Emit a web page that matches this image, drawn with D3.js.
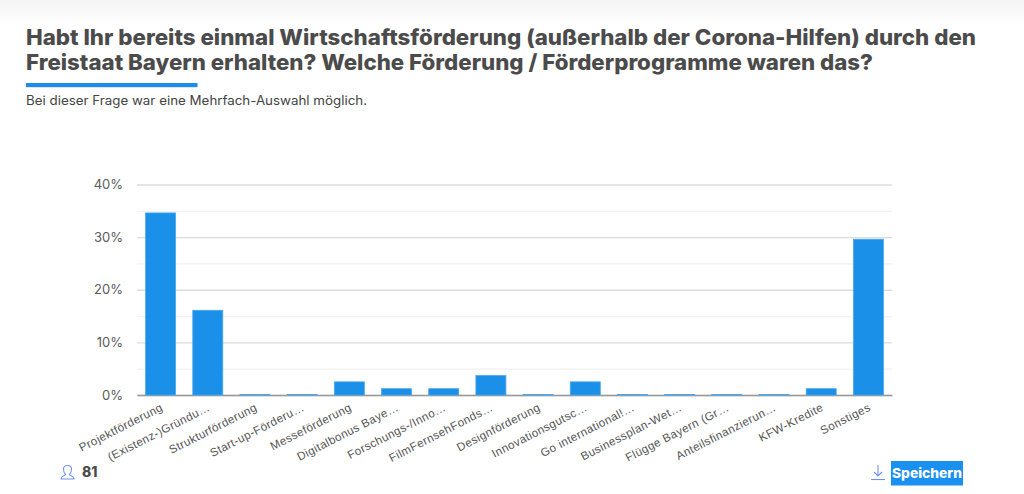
<!DOCTYPE html>
<html>
<head>
<meta charset="utf-8">
<script src="https://cdnjs.cloudflare.com/ajax/libs/d3/7.8.5/d3.min.js"></script>
<style>
html, body { margin: 0; padding: 0; background: #fff; overflow: hidden; }
svg { display: block; font-family: Inter, "Open Sans", sans-serif; }
.grid-major line { stroke: #dcdcdc; stroke-width: 1.3; }
.grid-minor line { stroke: #f1f1f1; stroke-width: 1.3; }
.grid-major path, .grid-minor path, .y-axis path, .y-axis line, .x-axis line { display: none; }
.x-axis path { stroke: #999; stroke-width: 1.5; }
.y-axis text { font-size: 13px; fill: #5a5a5a; font-family: Inter, sans-serif; }
.x-axis text { font-size: 11.6px; fill: #555; letter-spacing: .4px; }
.bar { fill: #1a90e8; stroke: #4ba8ee; stroke-width: .8; }
</style>
</head>
<body>
<svg id="chart" width="1024" height="494"></svg>
<script>
var titleLines = [
	"Habt Ihr bereits einmal Wirtschaftsförderung (außerhalb der Corona-Hilfen) durch den",
	"Freistaat Bayern erhalten? Welche Förderung / Förderprogramme waren das?"
];
var subtitle = "Bei dieser Frage war eine Mehrfach-Auswahl möglich.";
var categories = ["Projektförderung", "(Existenz-)Gründu…", "Strukturförderung", "Start-up-Förderu…",
	"Messeförderung", "Digitalbonus Baye…", "Forschungs-/Inno…", "FilmFernsehFonds…",
	"Designförderung", "Innovationsgutsc…", "Go international!…", "Businessplan-Wet…",
	"Flügge Bayern (Gr…", "Anteilsfinanzierun…", "KFW-Kredite", "Sonstiges"];
var percents = [34.6, 16.1, 0, 0, 2.5, 1.2, 1.2, 3.7, 0, 2.5, 0, 0, 0, 0, 1.2, 29.6];
var majorTicks = [0, 10, 20, 30, 40];
var minorTicks = [5, 15, 25, 35];
var respondents = "81";
var saveLabel = "Speichern";

var LEFT = 137, RIGHT = 892, TOP = 184.5, BOTTOM = 395;
var MIN_BAR = 0.6; // empty bars still show as a thin line on the axis
var svg = d3.select("#chart");

// top shade
var defs = svg.append("defs");
var shade = defs.append("linearGradient").attr("id", "top_shade")
	.attr("x1", 0).attr("x2", 0).attr("y1", 0).attr("y2", 1);
shade.append("stop").attr("offset", 0).attr("stop-color", "#f3f3f3");
shade.append("stop").attr("offset", 1).attr("stop-color", "#ffffff");
svg.append("rect").attr("width", 1024).attr("height", 24).attr("fill", "url(#top_shade)");

// title
svg.selectAll(".title-line")
	.data(titleLines)
	.enter()
	.append("text")
	.attr("class", "title-line")
	.attr("x", 26)
	.attr("y", function(d, i) { return 45 + i * 25; })
	.attr("textLength", function(d, i) { return i == 0 ? 950 : 847; })
	.attr("lengthAdjust", "spacingAndGlyphs")
	.style("font-size", "21.5px")
	.style("font-weight", 800)
	.style("fill", "#4b4b4b")
	.text(function(d) { return d; });

svg.append("rect").attr("x", 26).attr("y", 83).attr("width", 171.5).attr("height", 4.2).attr("fill", "#1f8ceb");

svg.append("text")
	.attr("x", 26).attr("y", 105)
	.attr("textLength", 341)
	.attr("lengthAdjust", "spacingAndGlyphs")
	.style("font-size", "12.5px")
	.style("fill", "#444")
	.text(subtitle);

// scales
var x = d3.scaleBand().domain(categories).range([LEFT, RIGHT]).paddingInner(0.364).paddingOuter(0.182);
var y = d3.scaleLinear().domain([0, 40]).range([BOTTOM, TOP]);

// grid
svg.append("g").attr("class", "grid-minor")
	.attr("transform", "translate(" + LEFT + ",0)")
	.call(d3.axisLeft(y).tickValues(minorTicks).tickSize(-(RIGHT - LEFT)).tickFormat(""));
svg.append("g").attr("class", "grid-major")
	.attr("transform", "translate(" + LEFT + ",0)")
	.call(d3.axisLeft(y).tickValues(majorTicks).tickSize(-(RIGHT - LEFT)).tickFormat(""));

// axes, x axis goes under the bars
var yAxis = svg.append("g").attr("class", "y-axis")
	.attr("transform", "translate(" + LEFT + ",0)")
	.call(d3.axisLeft(y).tickValues(majorTicks).tickSize(0).tickPadding(14).tickFormat(function(d) { return d + "%"; }));

var xAxis = svg.append("g").attr("class", "x-axis")
	.attr("transform", "translate(0," + BOTTOM + ")")
	.call(d3.axisBottom(x).tickSize(0).tickSizeOuter(0));
xAxis.selectAll("text")
	.attr("text-anchor", "end")
	.attr("dx", null)
	.attr("dy", null)
	.attr("y", 0)
	.attr("transform", "translate(3,15) rotate(-27)");

// bars
svg.selectAll(".bar")
	.data(percents)
	.enter()
	.append("rect")
	.attr("class", "bar")
	.attr("x", function(d, i) { return x(categories[i]); })
	.attr("y", function(d) { return Math.min(y(d), BOTTOM - MIN_BAR); })
	.attr("width", x.bandwidth())
	.attr("height", function(d) { return Math.max(BOTTOM - y(d), MIN_BAR); });

// footer
var person = svg.append("g").attr("transform", "translate(60,465)")
	.attr("fill", "none").attr("stroke", "#6f94f0").attr("stroke-width", 1.1);
person.append("path").attr("d", "M1 14 C1 11 5 11 5.5 9.5 C4 8 3.5 6 3.5 4 C3.5 1.5 5 0.5 7.5 0.5 C10 0.5 11.5 1.5 11.5 4 C11.5 6 11 8 9.5 9.5 C10 11 14 11 14 14 Z");
svg.append("text").attr("x", 82).attr("y", 477)
	.style("font-size", "14px").style("font-weight", 800).style("fill", "#4b4b4b")
	.text(respondents);

var dl = svg.append("g").attr("transform", "translate(871,465)")
	.attr("fill", "none").attr("stroke", "#6f94f0").attr("stroke-width", 1.1);
dl.append("path").attr("d", "M7 0 V11 M3 7 L7 11 L11 7");
dl.append("path").attr("d", "M0 14.5 H14");

svg.append("rect").attr("x", 891).attr("y", 461).attr("width", 72).attr("height", 24.5).attr("fill", "#1a90f0");
svg.append("text").attr("x", 927).attr("y", 478)
	.attr("text-anchor", "middle")
	.attr("textLength", 70)
	.attr("lengthAdjust", "spacingAndGlyphs")
	.style("font-size", "13.5px").style("font-weight", 800).style("fill", "#fff")
	.text(saveLabel);
</script>
</body>
</html>
